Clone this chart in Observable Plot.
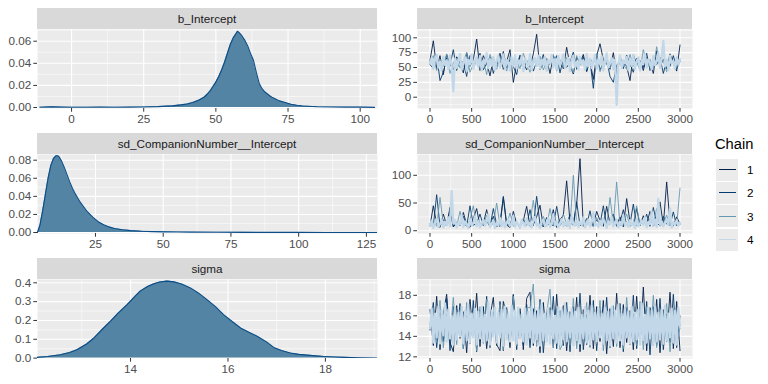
<!DOCTYPE html>
<html><head><meta charset="utf-8">
<script src="https://cdn.jsdelivr.net/npm/d3@7"></script>
<script src="https://cdn.jsdelivr.net/npm/@observablehq/plot@0.6"></script>
<style>
body{margin:0;background:#fff;font-family:"Liberation Sans",Arial,Helvetica,sans-serif;}
#root{position:relative;width:768px;height:384px;overflow:hidden;background:#fff;}
.strip{position:absolute;background:#d9d9d9;color:#1a1a1a;font-size:11.7px;text-align:center;line-height:21px;height:21px;}
.plot{position:absolute;}
.legend{position:absolute;left:715px;top:136px;color:#000;}
.legend .title{font-size:14.7px;height:22px;}
.legend .row{display:flex;align-items:center;height:23.3px;}
.legend .key{width:22px;height:22px;background:#ebebeb;border:0.5px solid #fff;position:relative;}
.legend .key i{position:absolute;left:2.5px;right:2.5px;top:10.5px;height:1px;}
.legend .lab{font-size:11.7px;margin-left:8px;color:#000;}
</style></head><body><div id="root"></div>
<script>
// ---------- data ----------
const params = ["b_Intercept", "sd_CompanionNumber__Intercept", "sigma"];
const chains = ["1", "2", "3", "4"];
const chainColors = ["#011f4b", "#03396c", "#6497b1", "#c2d8e8"];

// density curves (x, density)
const densB_x = [-11,-7,-3,0,5,10,15,20,25,30,35,38,40,42,44,45,46,47,48,49,50,51,52,53,54,55,56,57,57.5,58,59,60,61,62,63,64,65,66,67,68,69,70,72,74,76,78,80,85,90,95,100,105];
const densB_y = [0.0002,0.0006,0.0003,0.0002,0.0002,0.0003,0.0002,0.0003,0.0005,0.0008,0.0015,0.0024,0.0032,0.0045,0.0065,0.008,0.0095,0.012,0.015,0.019,0.023,0.028,0.034,0.041,0.049,0.057,0.063,0.067,0.069,0.068,0.065,0.061,0.056,0.049,0.043,0.032,0.022,0.017,0.014,0.012,0.010,0.0085,0.006,0.0045,0.003,0.002,0.0013,0.0007,0.0004,0.0003,0.0003,0.0001];
const densSd_x = [3.6,4.5,5.5,6.5,7.5,8.5,9.5,10.5,11,11.5,12.5,13.5,14.5,15.5,16.5,17.5,18.5,19.5,20.5,22,24,26,28,30,32,35,38,42,46,50,55,60,70,80,90,100,110,120,129];
const densSd_y = [0,0.008,0.024,0.042,0.06,0.074,0.082,0.085,0.085,0.084,0.079,0.072,0.064,0.056,0.049,0.043,0.038,0.033,0.029,0.023,0.017,0.012,0.0085,0.0062,0.0045,0.003,0.0021,0.0014,0.001,0.0007,0.0005,0.0004,0.0002,0.00015,0.0001,0.0001,0.00005,0.00003,0.00002];
const densSig_x = [12.09,12.3,12.56,12.75,12.9,13.1,13.25,13.4,13.59,13.75,13.93,14.1,14.2,14.35,14.48,14.6,14.75,14.89,15.05,15.23,15.4,15.57,15.75,15.91,16.1,16.26,16.45,16.6,16.8,16.94,17.1,17.28,17.45,17.62,17.8,17.97,18.2,18.38,18.7,19.07];
const densSig_y = [0.004,0.009,0.018,0.03,0.044,0.075,0.107,0.148,0.196,0.24,0.284,0.33,0.356,0.38,0.395,0.404,0.409,0.405,0.394,0.373,0.345,0.311,0.272,0.231,0.192,0.16,0.135,0.116,0.085,0.057,0.04,0.027,0.02,0.016,0.012,0.009,0.006,0.004,0.002,0.001];

// trace values (iterations 0..3000, evenly spaced samples)
const iterMax = 3000;
const traceB_1 = [62,95,48,70,38,72,55,46,68,60,41,75,52,63,98,45,70,58,36,66,52,74,47,60,80,25,57,69,45,62,50,73,106,46,58,65,40,70,55,62,48,84,53,39,67,58,72,44,61,30,70,90,63,56,47,75,38,66,59,52,28,72,55,62,45,68,58,40,78,52,64,48,73,57,44,88];
const traceB_2 = [55,48,72,28,42,66,54,80,45,63,58,35,70,50,62,74,46,57,68,40,61,55,77,49,64,52,38,71,58,46,66,44,60,53,72,44,62,57,70,41,65,50,59,76,47,55,68,43,62,15,73,46,58,64,35,25,54,60,48,71,56,42,66,58,50,74,45,61,55,67,40,63,52,70,48,60];
const traceB_3 = [60,70,45,64,52,73,40,58,66,49,61,75,42,56,68,50,63,38,72,55,47,66,59,44,70,53,61,48,74,57,42,65,52,69,46,60,55,72,44,63,50,67,58,41,70,54,62,47,66,56,73,43,59,65,49,61,37,68,55,47,72,52,60,45,80,57,64,48,85,54,61,43,67,56,50,62];
const traceB_4 = [
  57,66,48,63,71,50,60,45,68,54, 62,47,70,52,10,65,49,61,73,46,
  58,67,44,63,55,72,48,60,66,51, 69,45,62,57,74,49,64,53,68,46,
  61,70,50,56,72,47,63,58,45,67, 53,71,48,62,56,69,44,65,59,50,
  73,46,60,66,52,70,48,63,55,68, 45,62,58,71,50,64,47,69,54,60,
  72,49,57,66,44,63,70,51,59,47, 68,55,62,46,73,52,65,49,60,71,
  48,64,56,69,45,61,74,50,58,66, 47,63,-13,55,70,49,62,57,68,46,
  65,53,71,48,60,67,45,62,56,72, 50,64,58,47,69,54,61,75,49,66,
  95,52,63,46,70,57,61,48,67,55, 64];

const traceSd_1 = [8,45,12,6,30,10,42,7,15,9,33,11,6,22,40,8,13,38,9,26,7,14,60,10,6,35,12,9,18,44,8,11,25,46,7,13,10,38,6,20,28,90,15,10,48,130,8,22,14,9,35,18,8,44,12,30,9,25,7,58,15,10,40,9,27,12,35,8,16,52,10,88,14,9,25,12];
const traceSd_2 = [12,9,65,8,20,11,35,7,14,9,26,8,45,10,13,30,9,18,7,40,11,8,62,12,9,28,14,7,20,10,38,9,62,11,8,24,13,9,44,10,16,8,30,12,52,9,14,10,36,8,20,11,45,9,13,28,8,15,38,10,12,48,9,18,11,30,8,42,14,9,26,12,10,34,9,15];
const traceSd_3 = [10,18,8,60,12,9,24,15,8,35,11,9,20,45,8,14,10,28,9,12,50,9,15,11,32,8,13,9,22,10,14,55,9,12,26,8,40,11,16,9,30,12,8,100,10,14,9,20,12,8,24,10,15,9,60,12,88,9,13,30,8,12,45,10,18,9,22,11,40,8,14,28,9,12,10,77];
const traceSd_4 = [
  9,18,5,14,22,7,12,20,6,16, 10,24,8,72,13,19,6,15,11,28,
  7,17,12,5,21,9,14,26,8,18, 6,13,20,9,16,30,7,12,19,5,
  15,10,23,8,17,6,14,21,9,12, 27,7,16,11,5,19,13,8,22,10,
  14,6,18,25,9,12,5,16,20,8, 11,23,7,14,30,9,17,6,13,21,
  8,15,10,19,5,26,12,9,18,7, 16,11,24,6,13,20,8,15,33,10,
  12,7,18,9,22,14,5,17,11,25, 8,13,20,6,16,10,28,9,14,7,
  19,11,15,5,22,8,13,18,10,24, 6,16,12,35,9,20,7,58,11,17,
  8,14,21,10,40,6,15,12,19,9, 14];

const traceSig_1 = [16.6,13.1,17.9,12.7,16.2,18.1,13.4,12.5,17.0,13.8,16.4,12.4,17.6,14.0,18.2,13.0,16.9,12.8,15.9,17.8,13.2,12.6,17.4,16.1,12.9,18.0,13.5,16.7,12.7,17.7,18.3,13.1,16.5,12.4,17.3,13.6,16.8,12.9,18.1,13.3,17.0,12.6,16.4,13.4,17.8,12.5,16.6,13.2,18.0,12.8,16.9,13.5,17.5,12.3,16.7,13.0,18.2,12.9,17.1,13.4,16.5,12.7,17.9,13.3,18.8,12.6,16.8,13.1,17.6,12.4,16.6,13.5,18.3,12.8,17.4,12.6];
const traceSig_2 = [14.6,17.3,12.9,16.3,13.5,17.7,12.6,16.9,13.9,17.2,12.8,16.0,13.3,17.5,12.5,16.6,13.7,17.9,12.9,16.2,13.1,17.4,12.6,16.8,13.6,18.1,12.7,16.4,13.2,17.1,12.9,16.7,13.5,17.6,12.4,16.3,13.8,17.9,12.8,16.5,13.1,17.3,12.5,16.9,13.4,18.2,12.7,16.1,13.0,17.5,12.6,16.6,13.3,17.8,12.9,16.4,13.6,17.2,12.5,16.8,13.2,18.0,12.8,16.3,13.5,17.4,12.2,16.9,13.1,17.7,12.7,16.2,13.4,18.1,12.9,16.0];
const traceSig_3 = [15.2,16.8,13.4,17.5,12.9,16.2,14.0,17.8,13.2,16.5,12.8,17.3,13.6,16.0,12.6,16.9,13.3,17.6,13.0,16.4,13.7,17.1,12.7,16.6,13.4,17.9,13.1,16.2,13.5,16.8,16.8,19.1,13.0,17.4,13.6,16.3,18.6,12.9,16.7,12.7,13.4,16.5,13.1,17.7,12.8,16.1,13.5,17.3,12.9,16.8,13.3,17.5,12.6,16.4,13.7,17.0,13.0,16.6,12.8,17.8,13.5,16.2,13.1,17.4,12.7,16.9,13.6,18.0,12.9,16.5,13.2,17.2,12.5,16.7,13.3,14.8];
const traceSig_4 = [
  14.8,16.7,13.4,16.2,13.9,16.9,13.3,16.5,14.1,17.2, 13.5,16.6,13.8,16.0,13.2,16.8,13.7,16.3,14.0,16.9,
  13.3,16.5,13.6,17.1,13.4,16.2,13.9,16.7,13.2,16.4, 13.8,16.9,13.5,16.1,13.6,17.3,13.2,16.5,14.0,16.8,
  13.4,16.3,13.9,16.6,13.1,16.9,13.7,16.2,13.5,17.0, 13.6,16.5,13.3,16.8,13.8,16.1,13.5,16.7,13.2,16.4,
  13.9,16.9,13.4,16.3,13.7,16.6,13.1,17.1,13.6,16.2, 13.5,16.8,13.3,16.5,13.8,16.0,13.4,16.9,13.2,16.6,
  13.7,17.2,13.5,16.3,13.9,16.7,13.1,16.4,13.6,16.8, 13.3,16.1,13.8,16.9,13.4,16.5,13.2,17.0,13.7,16.3,
  13.5,16.7,13.9,16.2,13.3,16.8,13.6,16.4,13.1,16.9, 13.8,16.5,13.4,17.1,13.6,16.2,13.2,16.7,13.9,16.4,
  13.3,16.9,13.5,16.3,13.7,16.6,13.2,17.2,13.6,16.1, 13.4,16.8,13.8,16.5,13.1,16.9,13.5,16.3,13.7,16.6,
  13.3,17.0,13.6,16.2,13.9,16.7,13.4,16.5,13.2,16.8, 15.0];

// tick labels / breaks
const densB_xTicks = [0,25,50,75,100], densB_xMinor = [12.5,37.5,62.5,87.5];
const densB_yTicks = [0,0.02,0.04,0.06], densB_yMinor = [0.01,0.03,0.05,0.07];
const densSd_xTicks = [25,50,75,100,125], densSd_xMinor = [12.5,37.5,62.5,87.5,112.5];
const densSd_yTicks = [0,0.02,0.04,0.06,0.08], densSd_yMinor = [0.01,0.03,0.05,0.07];
const densSig_xTicks = [14,16,18], densSig_xMinor = [13,15,17,19];
const densSig_yTicks = [0,0.1,0.2,0.3,0.4], densSig_yMinor = [0.05,0.15,0.25,0.35];
const iterTicks = [0,500,1000,1500,2000,2500,3000], iterMinor = [250,750,1250,1750,2250,2750];
const trB_yTicks = [0,25,50,75,100], trB_yMinor = [-12.5,12.5,37.5,62.5,87.5,112.5];
const trSd_yTicks = [0,50,100], trSd_yMinor = [25,75,125];
const trSig_yTicks = [12,14,16,18], trSig_yMinor = [13,15,17,19];

// ---------- layout ----------
const root = document.getElementById("root");
const rowTops = [8, 133, 258];
const panelH = 79, stripH = 21, mBottom = 24;
const grey = "#4d4d4d";
const fInt = d3.format("d");

function common(xTicks, xMinor, yTicks, yMinor, xFmt, yFmt) {
  return [
    Plot.frame({fill: "#ebebeb"}),
    Plot.gridX(xMinor, {stroke: "#fff", strokeOpacity: 1, strokeWidth: 0.55}),
    Plot.gridY(yMinor, {stroke: "#fff", strokeOpacity: 1, strokeWidth: 0.55}),
    Plot.gridX(xTicks, {stroke: "#fff", strokeOpacity: 1, strokeWidth: 1.1}),
    Plot.gridY(yTicks, {stroke: "#fff", strokeOpacity: 1, strokeWidth: 1.1}),
    Plot.axisX(xTicks, {label: null, tickSize: 3.7, tickPadding: 2.5, fontSize: 11.7, stroke: "#333", fill: grey, tickFormat: xFmt}),
    Plot.axisY(yTicks, {label: null, tickSize: 3.7, tickPadding: 2.5, fontSize: 11.7, stroke: "#333", fill: grey, tickFormat: yFmt})
  ];
}

function densPlot(xs, ys, xDomain, yDomain, xTicks, xMinor, yTicks, yMinor, yFmt) {
  const data = xs.map((x, i) => ({x, y: ys[i]}));
  const c = common(xTicks, xMinor, yTicks, yMinor, fInt, yFmt);
  return Plot.plot({
    width: 384, height: stripH + panelH + mBottom,
    marginTop: stripH, marginBottom: mBottom, marginLeft: 37, marginRight: 7,
    style: {fontFamily: '"Liberation Sans",Arial,sans-serif', background: "transparent"},
    x: {domain: xDomain}, y: {domain: yDomain},
    marks: [
      ...c.slice(0, 5),
      Plot.areaY(data, {x: "x", y: "y", fill: "#5384a3", clip: true}),
      Plot.lineY(data, {x: "x", y: "y", stroke: "#0b4d88", strokeWidth: 1.1, clip: true}),
      ...c.slice(5)
    ]
  });
}

function tracePlot(series, yDomain, yTicks, yMinor) {
  const data = [];
  series.forEach((arr, ci) => arr.forEach((v, i) => data.push({chain: chains[ci], iter: i * iterMax / (arr.length - 1), value: v})));
  const c = common(iterTicks, iterMinor, yTicks, yMinor, fInt, fInt);
  return Plot.plot({
    width: 320, height: stripH + panelH + mBottom,
    marginTop: stripH, marginBottom: mBottom, marginLeft: 37, marginRight: 8,
    style: {fontFamily: '"Liberation Sans",Arial,sans-serif', background: "transparent"},
    x: {domain: [-150, 3150]}, y: {domain: yDomain},
    color: {domain: chains, range: chainColors},
    marks: [
      ...c.slice(0, 5),
      Plot.lineY(data.filter(d => d.chain !== "4"), {x: "iter", y: "value", z: "chain", stroke: "chain", strokeWidth: 0.9, clip: true}),
      Plot.lineY(data.filter(d => d.chain === "4"), {x: "iter", y: "value", z: "chain", stroke: "chain", strokeWidth: 2.3, clip: true}),
      ...c.slice(5)
    ]
  });
}

function place(el, left, top) {
  el.classList.add("plot");
  el.style.left = left + "px";
  el.style.top = top + "px";
  root.appendChild(el);
}
function strip(text, left, width, top) {
  const d = document.createElement("div");
  d.className = "strip";
  d.textContent = text;
  d.style.left = left + "px"; d.style.width = width + "px"; d.style.top = top + "px";
  root.appendChild(d);
}

const f2 = d3.format(".2f"), f1 = d3.format(".1f");
const dens = [
  densPlot(densB_x, densB_y, [-11.8, 106], [-0.0009, 0.0706], densB_xTicks, densB_xMinor, densB_yTicks, densB_yMinor, f2),
  densPlot(densSd_x, densSd_y, [3.6, 129.1], [-0.0011, 0.0863], densSd_xTicks, densSd_xMinor, densSd_yTicks, densSd_yMinor, f2),
  densPlot(densSig_x, densSig_y, [12.09, 19.07], [-0.002, 0.4176], densSig_xTicks, densSig_xMinor, densSig_yTicks, densSig_yMinor, f1)
];
const traces = [
  tracePlot([traceB_1, traceB_2, traceB_3, traceB_4], [-19, 114], trB_yTicks, trB_yMinor),
  tracePlot([traceSd_1, traceSd_2, traceSd_3, traceSd_4], [-5, 137.5], trSd_yTicks, trSd_yMinor),
  tracePlot([traceSig_1, traceSig_2, traceSig_3, traceSig_4], [11.84, 19.54], trSig_yTicks, trSig_yMinor)
];
params.forEach((p, r) => {
  place(dens[r], 0, rowTops[r]);
  place(traces[r], 380, rowTops[r]);
  strip(p, 37, 340, rowTops[r]);
  strip(p, 417, 275, rowTops[r]);
});

// legend
const lg = document.createElement("div");
lg.className = "legend";
const t = document.createElement("div");
t.className = "title"; t.textContent = "Chain";
lg.appendChild(t);
chains.forEach((ch, i) => {
  const row = document.createElement("div"); row.className = "row";
  const k = document.createElement("div"); k.className = "key";
  const ln = document.createElement("i"); ln.style.background = chainColors[i];
  k.appendChild(ln);
  const l = document.createElement("span"); l.className = "lab"; l.textContent = ch;
  row.appendChild(k); row.appendChild(l);
  lg.appendChild(row);
});
root.appendChild(lg);
</script></body></html>
